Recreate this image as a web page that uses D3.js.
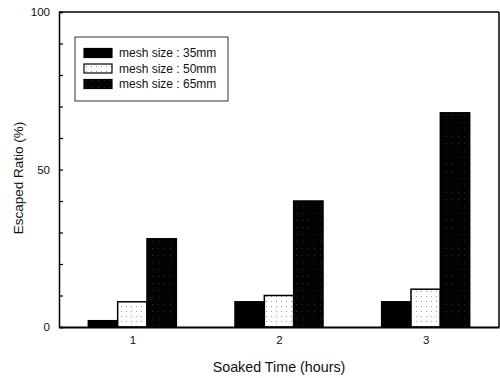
<!DOCTYPE html>
<html><head><meta charset="utf-8">
<script src="https://cdn.jsdelivr.net/npm/d3@7"></script>
<style>body{margin:0;background:#fff}svg{display:block}text{font-family:"Liberation Sans",Arial,sans-serif;fill:#111}</style>
</head><body>
<script>
const categories = [1, 2, 3];
const seriesNames = ["mesh size : 35mm", "mesh size : 50mm", "mesh size : 65mm"];
const mesh35 = [2, 8, 8];
const mesh50 = [8, 10, 12];
const mesh65 = [28, 40, 68];
const yTicks = [0, 50, 100];
const series = [mesh35, mesh50, mesh65];

const W = 500, H = 378;
const svg = d3.select("body").append("svg").attr("width", W).attr("height", H);
const defs = svg.append("defs");
const p1 = defs.append("pattern").attr("id","dotW").attr("width",5).attr("height",5).attr("patternUnits","userSpaceOnUse");
p1.append("rect").attr("width",5).attr("height",5).attr("fill","#fff");
p1.append("rect").attr("x",1).attr("y",1).attr("width",1).attr("height",1).attr("fill","#999");
const p2 = defs.append("pattern").attr("id","dotB").attr("width",6).attr("height",7).attr("patternUnits","userSpaceOnUse");
p2.append("rect").attr("width",6).attr("height",7).attr("fill","#030303");
p2.append("rect").attr("x",2).attr("y",3).attr("width",1).attr("height",1).attr("fill","#2a2a2a");

const fills = ["#000", "url(#dotW)", "url(#dotB)"];

const x = d3.scaleLinear().domain([0.5, 3.5]).range([59, 499]);
const y = d3.scaleLinear().domain([0, 100]).range([327, 12]);
const unit = x(1) - x(0);
const bw = 0.2;

const g = svg.append("g");
series.forEach((vals, si) => {
  g.selectAll(null).data(vals).enter().append("rect")
    .attr("x", (d,i) => x(categories[i] + (si - 1.5) * bw))
    .attr("width", bw * unit)
    .attr("y", d => y(d))
    .attr("height", d => y(0) - y(d))
    .attr("fill", fills[si])
    .attr("stroke", "#000").attr("stroke-width", 1.5);
});

svg.append("line").attr("x1",59).attr("x2",499).attr("y1",12).attr("y2",12).attr("stroke","#000").attr("stroke-width",1.5);
svg.append("line").attr("x1",499).attr("x2",499).attr("y1",12).attr("y2",327).attr("stroke","#000").attr("stroke-width",1.5);

const yAxis = d3.axisLeft(y).tickValues(d3.range(0, 101, 10)).tickSize(-4).tickFormat(d => yTicks.includes(d) ? d : "").tickPadding(9);
const ya = svg.append("g").attr("transform","translate(59,0)").call(yAxis);
ya.select(".domain").attr("stroke","#000").attr("stroke-width",1.5);
ya.selectAll(".tick line").attr("stroke","#000").attr("stroke-width",1.2);
ya.selectAll("text").attr("font-size",11.5).style("font-family","Liberation Sans, Arial, sans-serif");

const xAxis = d3.axisBottom(x).tickValues(categories).tickSize(0).tickPadding(9).tickFormat(d3.format("d"));
const xa = svg.append("g").attr("transform","translate(0,327)").call(xAxis);
xa.select(".domain").attr("stroke","#000").attr("stroke-width",2);
xa.selectAll("text").attr("font-size",11.5).style("font-family","Liberation Sans, Arial, sans-serif");

svg.append("text").attr("x",279).attr("y",372).attr("text-anchor","middle").attr("font-size",14.3).text("Soaked Time (hours)");
svg.append("text").attr("transform","translate(23,178) rotate(-90)").attr("text-anchor","middle").attr("font-size",13.5).text("Escaped Ratio (%)");

const lg = svg.append("g");
lg.append("rect").attr("x",75).attr("y",37).attr("width",153).attr("height",64).attr("fill","#fff").attr("stroke","#000").attr("stroke-width",0.8);
seriesNames.forEach((n, i) => {
  const yy = 53 + i * 15.5;
  lg.append("rect").attr("x",84).attr("y",yy-4.5).attr("width",28).attr("height",9).attr("fill",fills[i]).attr("stroke","#000").attr("stroke-width",1.2);
  lg.append("text").attr("x",119).attr("y",yy+4).attr("font-size",12).text(n);
});
</script>
</body></html>
